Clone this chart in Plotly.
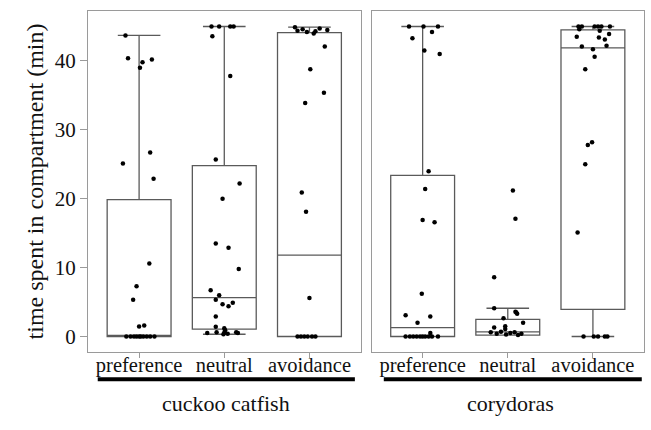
import plotly.graph_objects as go

categories = ["preference", "neutral", "avoidance"]
groups = ["cuckoo catfish", "corydoras"]
y_ticks = [0, 10, 20, 30, 40]

# box statistics (per group: preference, neutral, avoidance)
cc_q1 = [0.0, 1.06, 0.0]
cc_median = [0.05, 5.64, 11.8]
cc_q3 = [19.86, 24.8, 44.1]
cc_low = [0.0, 0.33, 0.0]
cc_high = [43.7, 45.0, 44.9]

co_q1 = [0.0, 0.2, 3.95]
co_median = [1.3, 0.67, 41.9]
co_q3 = [23.4, 2.5, 44.5]
co_low = [0.0, 0.2, 0.0]
co_high = [45.0, 4.1, 45.0]

# individual observations (value, horizontal jitter in category units)
cc_pref_vals = [43.7, 40.4, 39.8, 39.0, 40.2, 26.7, 25.1, 22.9, 10.6, 7.3, 5.35, 1.45, 1.6,
                0, 0, 0, 0, 0, 0, 0, 0, 0, 0]
cc_pref_jit = [-0.16, -0.13, 0.04, 0.01, 0.15, 0.13, -0.19, 0.17, 0.12, -0.03, -0.07, 0.0, 0.06,
               -0.15, -0.1, -0.06, -0.03, 0.0, 0.02, 0.05, 0.09, 0.13, 0.18]

cc_neu_vals = [45, 45, 45, 45, 43.6, 37.8, 25.7, 22.2, 20.0, 13.5, 12.9, 9.8, 6.7, 5.97, 5.35, 4.67,
               4.9, 4.4, 2.9, 1.4, 1.2, 0.9, 0.5, 0.6, 0.55, 0.4, 0.6, 0.5, 0.33]
cc_neu_jit = [-0.15, -0.06, 0.07, 0.11, -0.14, 0.07, -0.10, 0.18, -0.02, -0.10, 0.05, 0.17, -0.16,
              -0.06, -0.10, -0.02, 0.10, 0.05, -0.10, -0.10, 0.0, 0.01, -0.20, -0.09, 0.0, 0.04,
              0.14, 0.16, -0.01]

cc_avo_vals = [44.9, 44.4, 44.6, 44.2, 44.0, 44.3, 44.7, 44.5, 42.1, 38.8, 35.4, 33.9, 20.9, 18.1,
               5.6, 0, 0, 0, 0, 0, 0]
cc_avo_jit = [-0.17, -0.14, -0.08, -0.03, 0.05, 0.07, 0.12, 0.21, 0.18, 0.01, 0.17, -0.05, -0.09,
              -0.04, 0.0, -0.14, -0.1, -0.06, -0.02, 0.03, 0.07]

co_pref_vals = [45, 45, 45, 44.2, 43.3, 41.5, 41.0, 24.0, 21.4, 16.9, 16.6, 6.2, 3.1, 2.9, 2.0,
                0.5, 0, 0, 0, 0, 0, 0, 0, 0, 0, 0]
co_pref_jit = [-0.16, 0.01, 0.18, 0.11, -0.12, 0.02, 0.20, 0.07, 0.03, 0.0, 0.14, -0.01, -0.2,
               0.09, -0.06, 0.09, -0.2, -0.15, -0.11, -0.07, -0.03, 0.0, 0.03, 0.07, 0.11, 0.18]

co_neu_vals = [21.2, 17.1, 8.6, 4.1, 3.5, 3.6, 3.3, 2.65, 2.0, 1.3, 1.5, 1.1,
               0.6, 0.4, 0.7, 0.3, 0.5, 0.6, 0.2, 0.4]
co_neu_jit = [0.06, 0.09, -0.16, -0.16, 0.10, 0.09, 0.11, -0.05, 0.18, -0.16, -0.03, -0.03,
              -0.2, -0.13, -0.08, -0.02, 0.03, 0.08, 0.12, 0.16]

co_avo_vals = [45, 45, 45, 45, 45, 45, 44.6, 44.4, 43.5, 43.4, 43.1, 43.9, 42.1, 42.2, 41.7, 40.6,
               38.8, 28.2, 27.8, 25.0, 15.1, 0, 0, 0, 0, 0]
co_avo_jit = [-0.17, -0.13, 0.02, 0.06, 0.10, 0.2, -0.16, 0.08, -0.19, 0.07, 0.14, 0.19, -0.13,
              0.16, 0.0, 0.02, -0.09, -0.01, -0.06, -0.09, -0.18, -0.11, 0.01, 0.06, 0.14, 0.17]

FONT = "Liberation Serif"
BOX_LINE = "#5a5a5a"
FRAME = "#9a9a9a"

fig = go.Figure()

panels = [
    ("x", "y", cc_q1, cc_median, cc_q3, cc_low, cc_high,
     [(cc_pref_vals, cc_pref_jit), (cc_neu_vals, cc_neu_jit), (cc_avo_vals, cc_avo_jit)]),
    ("x2", "y2", co_q1, co_median, co_q3, co_low, co_high,
     [(co_pref_vals, co_pref_jit), (co_neu_vals, co_neu_jit), (co_avo_vals, co_avo_jit)]),
]

for xa, ya, q1, med, q3, lo, hi, pts in panels:
    fig.add_trace(go.Box(
        x=list(range(len(categories))), q1=q1, median=med, q3=q3,
        lowerfence=lo, upperfence=hi, width=0.75, whiskerwidth=0.667,
        boxpoints=False, fillcolor="white",
        line=dict(color=BOX_LINE, width=1.3),
        xaxis=xa, yaxis=ya, showlegend=False, hoverinfo="skip",
    ))
    for i, (vals, jit) in enumerate(pts):
        fig.add_trace(go.Scatter(
            x=[i + j for j in jit], y=vals, mode="markers",
            marker=dict(color="black", size=4.5),
            xaxis=xa, yaxis=ya, showlegend=False, hoverinfo="skip",
        ))

TICKFONT = dict(family=FONT, size=20.5, color="#111111")
xcommon = dict(
    range=[-0.6, 2.6], tickmode="array", tickvals=[0, 1, 2], ticktext=categories,
    showline=True, mirror=True, linecolor=FRAME, linewidth=1.2,
    ticks="outside", ticklen=5, tickcolor=FRAME, showgrid=False, zeroline=False,
    tickfont=TICKFONT, ticklabelstandoff=-11,
)
ycommon = dict(
    range=[-2.25, 47.25], tickvals=y_ticks,
    showline=True, mirror=True, linecolor=FRAME, linewidth=1.2,
    showgrid=False, zeroline=False, tickfont=dict(family=FONT, size=21, color="#111111"),
)

fig.update_layout(
    width=651, height=430,
    margin=dict(l=88, r=7, t=11, b=78),
    paper_bgcolor="white", plot_bgcolor="white",
    xaxis=dict(domain=[0, 0.4902], anchor="y", **xcommon),
    xaxis2=dict(domain=[0.510, 1], anchor="y2", **xcommon),
    yaxis=dict(anchor="x", ticks="outside", ticklen=7, tickcolor=FRAME,
               title=dict(text="time spent in compartment (min)",
                          font=dict(family=FONT, size=24, color="#111111"), standoff=4),
               **ycommon),
    yaxis2=dict(anchor="x2", showticklabels=False, ticks="", **ycommon),
    shapes=[
        dict(type="line", xref="paper", yref="paper", x0=0.0175, x1=0.48, y0=-0.08, y1=-0.08,
             line=dict(color="black", width=4)),
        dict(type="line", xref="paper", yref="paper", x0=0.532, x1=0.996, y0=-0.08, y1=-0.08,
             line=dict(color="black", width=4)),
    ],
    annotations=[
        dict(text=groups[0], xref="paper", yref="paper", x=0.248, y=-0.152, showarrow=False,
             xanchor="center", yanchor="middle", font=dict(family=FONT, size=22, color="#111111")),
        dict(text=groups[1], xref="paper", yref="paper", x=0.759, y=-0.152, showarrow=False,
             xanchor="center", yanchor="middle", font=dict(family=FONT, size=22, color="#111111")),
    ],
)

fig.write_html("out.html", post_script="document.body.style.margin='0';",
               config={"displayModeBar": False})
